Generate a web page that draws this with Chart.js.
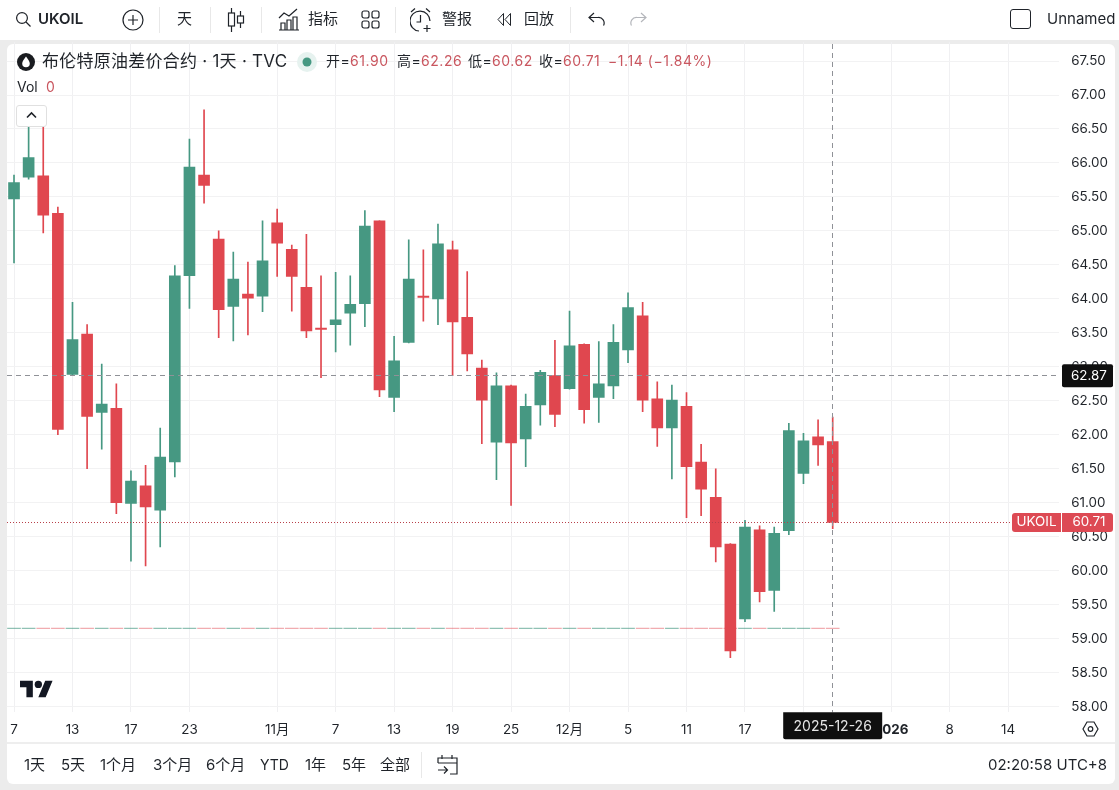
<!DOCTYPE html>
<html lang="zh-CN">
<head>
<meta charset="utf-8">
<title>UKOIL</title>
<script src="https://cdn.jsdelivr.net/npm/chart.js@4"></script>
<style>
  html, body { margin: 0; padding: 0; background: #ececec; }
  #stage {
    position: relative; width: 1119px; height: 790px; overflow: hidden;
    font-family: Inter, "Noto Sans CJK SC", sans-serif; color: #1f2329;
  }
  #topbar { position: absolute; left: 0; top: 0; width: 1119px; height: 40px; background: #fff; }
  #panel { position: absolute; left: 7px; top: 44px; width: 1108px; height: 740px; background: #fff; border-radius: 6px; }
  #axisline { position: absolute; left: 7px; top: 742px; width: 1108px; height: 2px; background: #eeeeee; }
  #chart { position: absolute; left: 0; top: 0; }
  .t { position: absolute; white-space: nowrap; line-height: 20px; font-size: 15px; }
  .sep { position: absolute; width: 1px; background: #e8e8e8; }
  .ic { position: absolute; fill: none; stroke: #1f2329; stroke-width: 1.2; }
  .red { color: #c9565f; }
  .leg { font-size: 14px; line-height: 20px; top: 51px; letter-spacing: 0.55px; }
  .bot { font-size: 15px; top: 755px; }
</style>
</head>
<body>
<div id="stage">
  <div id="topbar"></div>
  <div id="panel"></div>
  <canvas id="chart" width="1119" height="790"></canvas>
  <div id="axisline"></div>

  <!-- top toolbar -->
  <svg class="ic" style="left:15px;top:11px" width="17" height="17" viewBox="0 0 17 17"><circle cx="7" cy="7" r="5.4"/><path d="M11 11l4.5 4.5"/></svg>
  <span class="t" style="left:38px;top:9px;font-weight:600">UKOIL</span>
  <svg class="ic" style="left:122px;top:9px" width="22" height="22" viewBox="0 0 22 22"><circle cx="11" cy="11" r="10"/><path d="M11 6v10M6 11h10"/></svg>
  <div class="sep" style="left:159px;top:7px;height:26px"></div>
  <span class="t" style="left:177px;top:9px;font-size:15px">天</span>
  <div class="sep" style="left:210px;top:7px;height:26px"></div>
  <svg class="ic" style="left:227px;top:7px" width="18" height="26" viewBox="0 0 18 26"><path d="M4.5 1v24M13.5 4v17"/><rect x="1.5" y="6" width="6" height="13" fill="#fff"/><rect x="10.5" y="9" width="6" height="7" fill="#fff"/></svg>
  <div class="sep" style="left:261px;top:7px;height:26px"></div>
  <svg class="ic" style="left:278px;top:8px" width="22" height="23" viewBox="0 0 22 23"><path d="M1 10l5-5 5 3 8-7"/><path d="M1 22h20M3 22v-7h4v7M9 22v-10h4v10M15 22v-13h4v13"/></svg>
  <span class="t" style="left:308px;top:9px">指标</span>
  <svg class="ic" style="left:361px;top:10px" width="19" height="19" viewBox="0 0 19 19"><rect x="1" y="1" width="7" height="7" rx="2"/><rect x="11" y="1" width="7" height="7" rx="2"/><rect x="1" y="11" width="7" height="7" rx="2"/><rect x="11" y="11" width="7" height="7" rx="2"/></svg>
  <div class="sep" style="left:395px;top:7px;height:26px"></div>
  <svg class="ic" style="left:410px;top:7px" width="24" height="26" viewBox="0 0 24 26"><path d="M9 24a10 10 0 1 1 11-10"/><path d="M10.500 8v7h-4M1 5l4-3.500M20 5l-4-3.500M17 18v7M13.500 21.500h7"/></svg>
  <span class="t" style="left:442px;top:9px">警报</span>
  <svg class="ic" style="left:496px;top:12px;stroke-width:1" width="17" height="15" viewBox="0 0 17 15"><path d="M7.500 1.500L2 7.500l5.500 6zM14.500 1.500L9 7.500l5.500 6z"/></svg>
  <span class="t" style="left:524px;top:9px">回放</span>
  <div class="sep" style="left:570px;top:7px;height:26px"></div>
  <svg class="ic" style="left:588px;top:12px" width="17" height="15" viewBox="0 0 17 15"><path d="M6 1L1 5.500l5 4.500M1 5.500h9a5.500 5.500 0 0 1 5.500 8"/></svg>
  <svg class="ic" style="left:630px;top:12px;stroke:#b4b6bb" width="17" height="15" viewBox="0 0 17 15"><path d="M11 1l5 4.500-5 4.500M16 5.500H7a5.500 5.500 0 0 0-5.500 8"/></svg>
  <div style="position:absolute;left:1010px;top:9px;width:19px;height:18px;border:1.3px solid #1f2329;border-radius:3px"></div>
  <span class="t" style="left:1047px;top:9px">Unnamed</span>

  <!-- series legend -->
  <svg style="position:absolute;left:17px;top:53px" width="18" height="18" viewBox="0 0 18 18"><circle cx="9" cy="9" r="9" fill="#1a1c20"/><path d="M9 3.500C11 6.500 12.800 8.300 12.800 10.500a3.800 3.800 0 0 1-7.600 0C5.200 8.300 7 6.500 9 3.500z" fill="#fff"/></svg>
  <span class="t" style="left:42px;top:51px;font-size:17px;letter-spacing:0.25px">布伦特原油差价合约 · 1天 · TVC</span>
  <svg style="position:absolute;left:297px;top:52px" width="20" height="20" viewBox="0 0 20 20"><circle cx="10" cy="10" r="10" fill="#e6f2ef"/><circle cx="10" cy="10" r="4.500" fill="#469882"/></svg>
  <span class="t leg" style="left:326px">开=</span><span class="t leg red" style="left:350px">61.90</span>
  <span class="t leg" style="left:397px">高=</span><span class="t leg red" style="left:421px">62.26</span>
  <span class="t leg" style="left:468px">低=</span><span class="t leg red" style="left:492px">60.62</span>
  <span class="t leg" style="left:539px">收=</span><span class="t leg red" style="left:563px">60.71</span>
  <span class="t leg red" style="left:608px">−1.14 (−1.84%)</span>
  <span class="t" style="left:17px;top:77px;font-size:14px">Vol</span>
  <span class="t red" style="left:46px;top:77px;font-size:14px">0</span>
  <div style="position:absolute;left:16px;top:105px;width:29px;height:20px;background:#fff;border:1px solid #e0e0e0;border-radius:3px"></div>
  <svg class="ic" style="left:26px;top:111px;stroke-width:1.6" width="11" height="8" viewBox="0 0 11 8"><path d="M1 6.500l4.500-4.500 4.500 4.500"/></svg>

  <!-- logo mark and axis settings -->
  <svg style="position:absolute;left:20px;top:677px" width="33" height="23" viewBox="0 0 36 25"><path d="M14 22H7V11H0V4h14v18zM28 22h-8l7.500-18h8L28 22z" fill="#131722"/><circle cx="20" cy="8" r="4" fill="#131722"/></svg>
  <svg class="ic" style="left:1082px;top:721px" width="17" height="16" viewBox="0 0 17 16"><path d="M5 1h7l4 7-4 7H5L1 8z"/><circle cx="8.500" cy="8" r="2.300"/></svg>

  <!-- bottom range bar -->
  <span class="t bot" style="left:24px">1天</span>
  <span class="t bot" style="left:61px">5天</span>
  <span class="t bot" style="left:100px">1个月</span>
  <span class="t bot" style="left:153px">3个月</span>
  <span class="t bot" style="left:206px">6个月</span>
  <span class="t bot" style="left:260px;font-size:14px">YTD</span>
  <span class="t bot" style="left:305px">1年</span>
  <span class="t bot" style="left:342px">5年</span>
  <span class="t bot" style="left:380px">全部</span>
  <div class="sep" style="left:421px;top:752px;height:26px"></div>
  <svg class="ic" style="left:437px;top:754px" width="21" height="22" viewBox="0 0 21 22"><path d="M5 1v4M15 1v4M1 9V4h19v16h-7M1 9h19M1 16h9M7 12.500l3.500 3.500L7 19.500"/></svg>
  <span class="t bot" style="left:988px">02:20:58 UTC+8</span>
</div>

<script>
// Daily sessions on the time axis, including the empty slots to the right of the last bar
const categories = [
  '2025-10-07', '2025-10-08', '2025-10-09', '2025-10-10', '2025-10-13', '2025-10-14', '2025-10-15', '2025-10-16',
  '2025-10-17', '2025-10-20', '2025-10-21', '2025-10-22', '2025-10-23', '2025-10-24', '2025-10-27', '2025-10-28',
  '2025-10-29', '2025-10-30', '2025-11-03', '2025-11-04', '2025-11-05', '2025-11-06', '2025-11-07', '2025-11-10',
  '2025-11-11', '2025-11-12', '2025-11-13', '2025-11-14', '2025-11-17', '2025-11-18', '2025-11-19', '2025-11-20',
  '2025-11-21', '2025-11-24', '2025-11-25', '2025-11-26', '2025-11-27', '2025-11-28', '2025-12-01', '2025-12-02',
  '2025-12-03', '2025-12-04', '2025-12-05', '2025-12-08', '2025-12-09', '2025-12-10', '2025-12-11', '2025-12-12',
  '2025-12-15', '2025-12-16', '2025-12-17', '2025-12-18', '2025-12-19', '2025-12-22', '2025-12-23', '2025-12-24',
  '2025-12-26', '2025-12-29', '2025-12-30', '2025-12-31', '2026-01-02', '2026-01-05', '2026-01-06', '2026-01-07',
  '2026-01-08', '2026-01-09', '2026-01-12', '2026-01-13', '2026-01-14', '2026-01-15', '2026-01-16', '2026-01-19'
];

const opens = [
  65.47, 65.79, 65.81, 65.26, 62.89, 63.48, 62.33, 62.39, 60.99, 61.25, 60.89, 61.60, 64.34, 65.82, 64.88, 63.89,
  64.07, 64.04, 65.12, 64.73, 64.17, 63.57, 63.62, 63.79, 63.93, 65.15, 62.55, 63.36, 64.04, 64.00, 64.72, 63.73,
  62.98, 61.89, 62.72, 61.94, 62.44, 62.87, 62.68, 63.33, 62.55, 62.72, 63.25, 63.75, 62.53, 62.10, 62.42, 61.60,
  61.08, 60.39, 59.29, 60.60, 59.71, 60.59, 61.43, 61.97, 61.90
];
const highs = [
  65.82, 66.60, 66.54, 65.35, 63.95, 63.62, 63.04, 62.75, 61.47, 61.55, 62.10, 64.49, 66.35, 66.78, 65.00, 64.69,
  64.54, 65.15, 65.32, 64.79, 64.95, 64.34, 64.39, 64.34, 65.30, 65.15, 63.45, 64.87, 64.72, 65.10, 64.85, 64.40,
  63.10, 62.91, 62.73, 62.60, 62.95, 63.39, 63.82, 63.34, 63.37, 63.62, 64.09, 63.95, 62.78, 62.73, 62.62, 61.86,
  61.50, 60.40, 60.74, 60.66, 60.64, 62.17, 62.02, 62.22, 62.26
];
const lows = [
  64.53, 65.76, 64.97, 62.00, 62.88, 61.50, 61.79, 60.84, 60.14, 60.07, 60.35, 61.38, 63.86, 65.41, 63.43, 63.38,
  63.47, 63.81, 64.33, 63.82, 63.43, 62.84, 63.22, 63.32, 63.59, 62.56, 62.34, 63.35, 63.67, 63.62, 62.87, 62.94,
  61.87, 61.34, 60.96, 61.53, 62.14, 62.12, 62.67, 62.17, 62.18, 62.53, 63.06, 62.34, 61.83, 61.35, 60.78, 60.81,
  60.13, 58.72, 59.25, 59.54, 59.40, 60.53, 61.28, 61.55, 60.62
];
const closes = [
  65.71, 66.08, 65.23, 62.08, 63.40, 62.27, 62.45, 61.00, 61.32, 60.94, 61.67, 64.34, 65.94, 65.67, 63.84, 64.29,
  64.01, 64.56, 64.82, 64.33, 63.53, 63.55, 63.69, 63.92, 65.07, 62.66, 63.09, 64.29, 64.02, 64.81, 63.66, 63.19,
  62.51, 62.72, 61.88, 62.42, 62.92, 62.30, 63.31, 62.37, 62.75, 63.36, 63.87, 62.51, 62.10, 62.51, 61.53, 61.20,
  60.35, 58.82, 60.64, 59.69, 60.55, 62.06, 61.91, 61.85, 60.71
];

// The volume study sits flat on its own baseline
const volumeLevel = 59.15;

const tickDates = [
  '2025-10-07', '2025-10-13', '2025-10-17', '2025-10-23', '2025-11-03', '2025-11-07', '2025-11-13', '2025-11-19',
  '2025-11-25', '2025-12-01', '2025-12-05', '2025-12-11', '2025-12-17', '2025-12-23', '2026-01-02', '2026-01-08',
  '2026-01-14'
];
const tickLabels = ['7', '13', '17', '23', '11月', '7', '13', '19', '25', '12月', '5', '11', '17', '23', '2026', '8', '14'];

const crosshairDate = '2025-12-26';
const crosshairPrice = 62.87;
const seriesName = 'UKOIL';

const UP = '#469882';
const DOWN = '#e0474f';
const FONT = 'Inter, "Noto Sans CJK SC", sans-serif';

const isUp = i => closes[i] >= opens[i];
const candleColor = c => (isUp(c.dataIndex) ? UP : DOWN);
const paleColor = c => (isUp(c.dataIndex) ? 'rgba(70,152,130,0.6)' : 'rgba(224,71,79,0.45)');

// Lines are snapped to the middle of a pixel row or column so they stay crisp
const snap = v => Math.floor(v) + 0.5;

// Dashed crosshair, dotted last-price line and the axis tags
const overlay = {
  id: 'overlay',
  afterDatasetsDraw(chart) {
    const { ctx, chartArea, scales } = chart;
    const lastY = snap(scales.y.getPixelForValue(closes[closes.length - 1]));
    const crossY = snap(scales.y.getPixelForValue(crosshairPrice));
    const crossX = snap(scales.x.getPixelForValue(categories.indexOf(crosshairDate)));
    ctx.save();
    ctx.lineWidth = 1;
    ctx.strokeStyle = '#b8404a';
    ctx.setLineDash([1, 2]);
    ctx.beginPath();
    ctx.moveTo(7, lastY);
    ctx.lineTo(1012, lastY);
    ctx.stroke();
    ctx.strokeStyle = '#8f9197';
    ctx.setLineDash([5, 4]);
    ctx.beginPath();
    ctx.moveTo(7, crossY);
    ctx.lineTo(chartArea.right, crossY);
    ctx.moveTo(crossX, 44);
    ctx.lineTo(crossX, chartArea.bottom);
    ctx.stroke();
    ctx.restore();
  },
  afterDraw(chart) {
    const { ctx, chartArea, scales } = chart;
    const last = closes[closes.length - 1];
    const lastY = scales.y.getPixelForValue(last);
    const crossY = scales.y.getPixelForValue(crosshairPrice);
    const crossX = scales.x.getPixelForValue(categories.indexOf(crosshairDate));
    ctx.save();
    ctx.textBaseline = 'middle';
    ctx.font = '13.4px ' + FONT;

    ctx.fillStyle = '#0f0f0f';
    ctx.beginPath();
    ctx.roundRect(1062, crossY - 11.5, 51, 23, 2);
    ctx.fill();
    ctx.fillStyle = '#fff';
    ctx.textAlign = 'center';
    ctx.fillText(crosshairPrice.toFixed(2), 1089, crossY);

    ctx.fillStyle = '#dd4a54';
    ctx.beginPath();
    ctx.roundRect(1012, lastY - 9.5, 49, 19, [3, 0, 0, 3]);
    ctx.fill();
    ctx.beginPath();
    ctx.roundRect(1062, lastY - 9.5, 51, 19, [0, 3, 3, 0]);
    ctx.fill();
    ctx.fillStyle = '#fff';
    ctx.fillText(seriesName, 1036.5, lastY);
    ctx.fillText(last.toFixed(2), 1089, lastY);

    ctx.fillStyle = '#0f0f0f';
    ctx.beginPath();
    ctx.roundRect(crossX - 49.5, chartArea.bottom, 99, 27, [0, 0, 2, 2]);
    ctx.fill();
    ctx.font = '14px ' + FONT;
    ctx.fillStyle = '#e6e6e6';
    ctx.fillText(crosshairDate, crossX, chartArea.bottom + 14);
    ctx.restore();
  }
};

new Chart(document.getElementById('chart'), {
  type: 'bar',
  data: {
    labels: categories,
    datasets: [
      {
        label: 'Vol',
        data: closes.map(() => [volumeLevel - 0.005, volumeLevel + 0.005]),
        backgroundColor: paleColor,
        barThickness: 13,
        grouped: false,
        order: 3
      },
      {
        label: 'wick',
        data: lows.map((l, i) => [l, highs[i]]),
        backgroundColor: candleColor,
        barThickness: 1,
        grouped: false,
        order: 2
      },
      {
        label: 'body',
        data: opens.map((o, i) => [o, closes[i]]),
        backgroundColor: candleColor,
        barThickness: 11,
        grouped: false,
        order: 1
      }
    ]
  },
  plugins: [overlay],
  options: {
    responsive: false,
    animation: false,
    layout: { padding: { left: 6.7, top: 42, right: 0, bottom: 0 } },
    plugins: { legend: { display: false }, tooltip: { enabled: false } },
    scales: {
      x: {
        offset: true,
        afterFit(scale) { scale.height = 77.7; },
        border: { display: false },
        grid: {
          offset: false,
          drawTicks: false,
          color: c => (tickDates.includes(categories[c.index]) ? '#f0f0f2' : 'transparent')
        },
        ticks: {
          autoSkip: false,
          maxRotation: 0,
          padding: 10,
          color: '#1f2329',
          font: c => ({
            family: FONT,
            size: 13.4,
            weight: categories[c.index] === '2026-01-02' ? '700' : '400'
          }),
          callback(value, i) {
            const k = tickDates.indexOf(categories[i]);
            return k < 0 ? '' : tickLabels[k];
          }
        }
      },
      y: {
        position: 'right',
        min: 57.916,
        max: 67.78,
        afterFit(scale) { scale.width = 59.7; },
        border: { display: false },
        grid: { drawTicks: false, color: '#f2f2f3' },
        ticks: {
          stepSize: 0.5,
          includeBounds: false,
          padding: 12,
          color: '#1f2329',
          font: { family: FONT, size: 13.4 },
          callback: v => Number(v).toFixed(2)
        }
      }
    }
  }
});
</script>
</body>
</html>
